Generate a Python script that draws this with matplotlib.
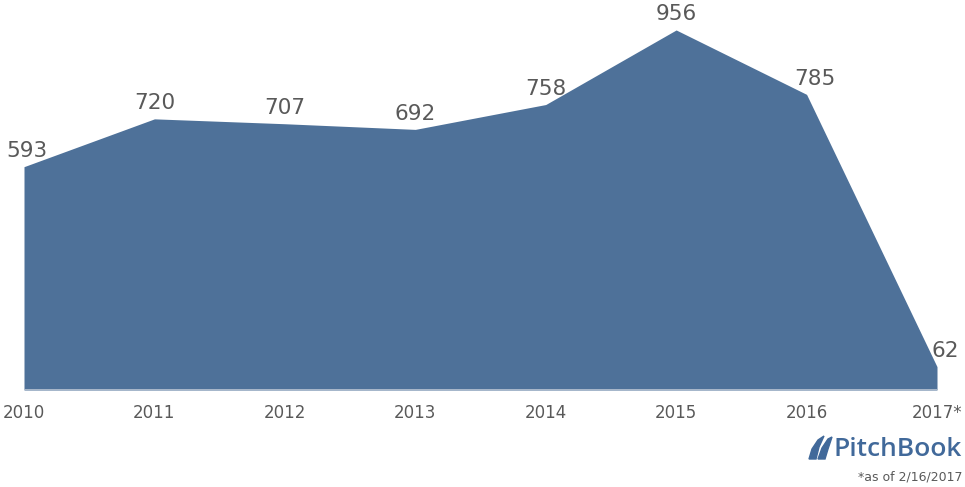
import matplotlib.pyplot as plt
from matplotlib.patches import Polygon

# deal counts per year
years = ["2010", "2011", "2012", "2013", "2014", "2015", "2016", "2017*"]
deals = [593, 720, 707, 692, 758, 956, 785, 62]

fill_color = "#4E7199"
text_color = "#595959"
logo_color = "#41699A"

fig = plt.figure(figsize=(9.65, 4.87), dpi=100)
ax = fig.add_axes([24 / 965, 97 / 487, 913 / 965, 376.6 / 487])

x = list(range(len(years)))
ax.fill_between(x, deals, 0, color=fill_color, linewidth=0)
ax.axhline(0, color="#B3BFCF", linewidth=2, zorder=3)

# data labels above each point
for i, v in enumerate(deals):
    dx = 0
    if i == 0:
        dx = 2
    elif i == len(deals) - 1:
        dx = 6
    elif i == 6:
        dx = 6
    ax.annotate(str(v), (i, v), xytext=(dx, 4), textcoords="offset points",
                ha="center", va="bottom", fontsize=15.5, color=text_color)

ax.set_xlim(0, len(years) - 1)
ax.set_ylim(0, 1000)
ax.set_xticks(x)
ax.set_xticklabels(years, fontsize=12, color=text_color)
ax.tick_params(axis="x", length=0, pad=10)
ax.set_yticks([])
for s in ax.spines.values():
    s.set_visible(False)
ax.patch.set_alpha(0)

# PitchBook logo + footnote
fig.text(962 / 965, 1 - 449 / 487, "PitchBook", ha="right", va="center",
         fontsize=19, color=logo_color, family="Open Sans", fontweight="semibold")
leaves = [
    [(809, 459), (812, 449), (818, 440), (824, 436), (819, 447), (816, 459)],
    [(818, 459), (822, 448), (828, 439), (832, 437), (828, 449), (825, 459)],
]
for pts in leaves:
    leaf = Polygon([(px, 487 - py) for px, py in pts], closed=True,
                   transform=None, color=logo_color)
    fig.add_artist(leaf)
fig.text(962 / 965, 1 - 477 / 487, "*as of 2/16/2017", ha="right", va="center",
         fontsize=9, color=text_color)

fig.savefig("out.png", dpi=100)
